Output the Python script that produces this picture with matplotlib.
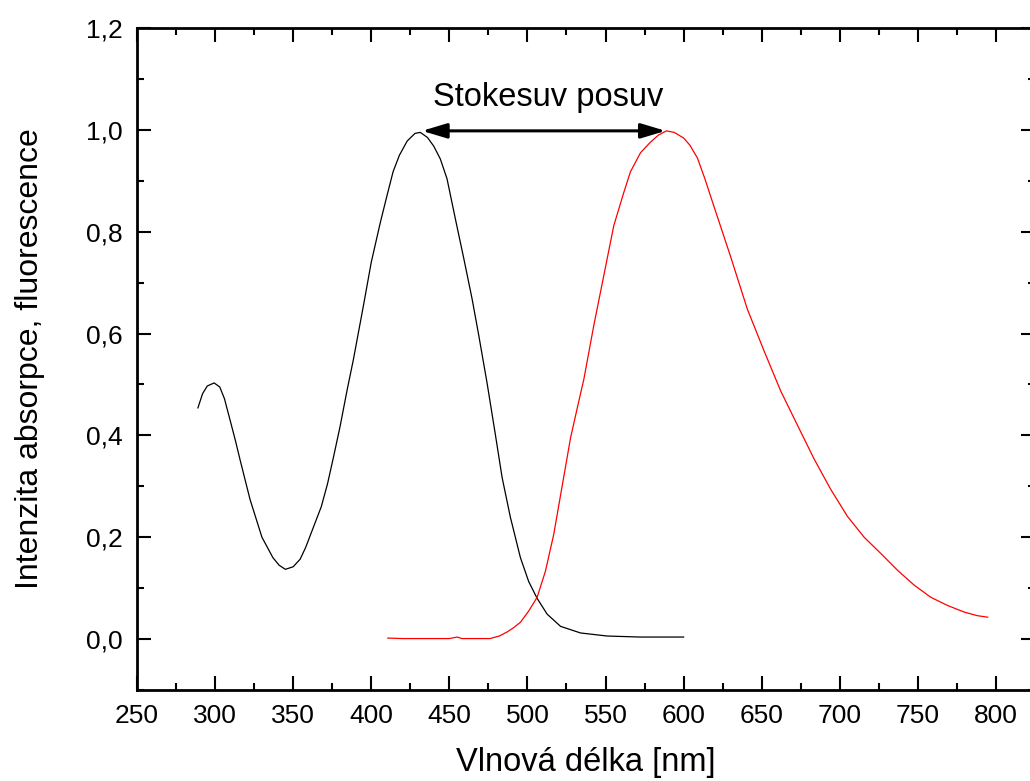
import matplotlib
matplotlib.use("Agg")
import matplotlib.pyplot as plt
from matplotlib.ticker import MultipleLocator, FuncFormatter

plt.rcParams['font.family'] = ['Liberation Sans', 'DejaVu Sans']

# Absorption spectrum (black)
abs_wl = [289, 292, 295, 299.4, 303, 306, 309.6, 313, 316, 322.4, 330, 337, 341, 345,
          350, 354.5, 358, 363, 368, 372, 376, 380, 384.6, 388.5, 395, 400, 405.8, 410,
          414, 418, 423, 428, 431.4, 436, 440, 444.2, 448.5, 453.8, 459.2, 464.5, 468.8,
          474.2, 479.5, 483.8, 489.1, 495.5, 500.8, 506.2, 512.6, 521.2, 534, 551, 572, 600]
abs_val = [0.454, 0.482, 0.497, 0.503, 0.495, 0.472, 0.43, 0.39, 0.352, 0.274, 0.20,
           0.16, 0.145, 0.137, 0.142, 0.157, 0.18, 0.22, 0.26, 0.305, 0.36, 0.417, 0.49,
           0.548, 0.655, 0.74, 0.818, 0.87, 0.918, 0.95, 0.978, 0.993, 0.995, 0.985,
           0.968, 0.943, 0.904, 0.826, 0.748, 0.669, 0.597, 0.502, 0.401, 0.317, 0.239,
           0.160, 0.113, 0.080, 0.049, 0.025, 0.012, 0.006, 0.004, 0.004]

# Fluorescence spectrum (red)
fl_wl = [410.6, 420, 430, 440, 450, 455, 458, 470, 476, 482, 487, 491, 495.5, 500.8,
         506.2, 511.5, 516.8, 522.2, 527.6, 532, 536.1, 542.5, 548.9, 555.3, 561.7, 566,
         572.4, 578.5, 584, 589, 594, 600, 604, 608.8, 613.5, 619.4, 630.1, 640.8, 651.5,
         662.2, 672.9, 683.5, 694.2, 704.9, 715.6, 726.3, 737, 747.6, 758.3, 769, 779.7,
         788, 794.7]
fl_val = [0.002, 0.001, 0.001, 0.001, 0.001, 0.004, 0.001, 0.001, 0.001, 0.006, 0.014,
          0.022, 0.033, 0.055, 0.082, 0.133, 0.205, 0.30, 0.395, 0.455, 0.51, 0.616,
          0.714, 0.812, 0.877, 0.918, 0.955, 0.975, 0.99, 0.998, 0.995, 0.984, 0.97,
          0.945, 0.905, 0.85, 0.751, 0.648, 0.566, 0.487, 0.42, 0.354, 0.294, 0.241,
          0.20, 0.168, 0.135, 0.106, 0.082, 0.066, 0.053, 0.046, 0.043]

x_ticks = [250, 300, 350, 400, 450, 500, 550, 600, 650, 700, 750, 800]
y_ticks = [0.0, 0.2, 0.4, 0.6, 0.8, 1.0, 1.2]

arrow_start = (432.5, 0.998)
arrow_end = (588.5, 0.998)
label_text = "Stokesuv posuv"
label_pos = (513.5, 1.047)

fig = plt.figure(figsize=(10.3, 7.81), dpi=100)
ax = fig.add_axes([137/1030, (781-690)/781, (1035-137)/1030, (690-28)/781])

ax.plot(abs_wl, abs_val, color='black', lw=0.9)
ax.plot(fl_wl, fl_val, color='#ff0000', lw=0.9)

ax.annotate('', xy=arrow_end, xytext=arrow_start,
            arrowprops=dict(arrowstyle='<|-|>,head_length=1.5,head_width=0.45',
                            color='black', lw=2.2, shrinkA=0, shrinkB=0))
ax.text(label_pos[0], label_pos[1], label_text, ha='center', va='baseline', fontsize=23.5)

ax.set_xlim(250, 825)
ax.set_ylim(-0.1, 1.2)
ax.set_xticks(x_ticks)
ax.set_yticks(y_ticks)
ax.xaxis.set_minor_locator(MultipleLocator(25))
ax.yaxis.set_minor_locator(MultipleLocator(0.1))
ax.yaxis.set_major_formatter(FuncFormatter(lambda v, p: f"{v:.1f}".replace('.', ',')))

ax.tick_params(which='both', direction='in', top=True, right=True, width=1.5, labelsize=19)
ax.tick_params(which='major', length=10)
ax.tick_params(which='minor', length=5)
ax.tick_params(axis='x', which='major', pad=10)
ax.tick_params(axis='y', which='major', pad=10)
for s in ax.spines.values():
    s.set_linewidth(2.0)

ax.set_xlabel("Vlnová délka [nm]", fontsize=23.5, labelpad=14)
ax.set_ylabel("Intenzita absorpce, fluorescence", fontsize=23, labelpad=30)

fig.savefig("out.png", dpi=100)
